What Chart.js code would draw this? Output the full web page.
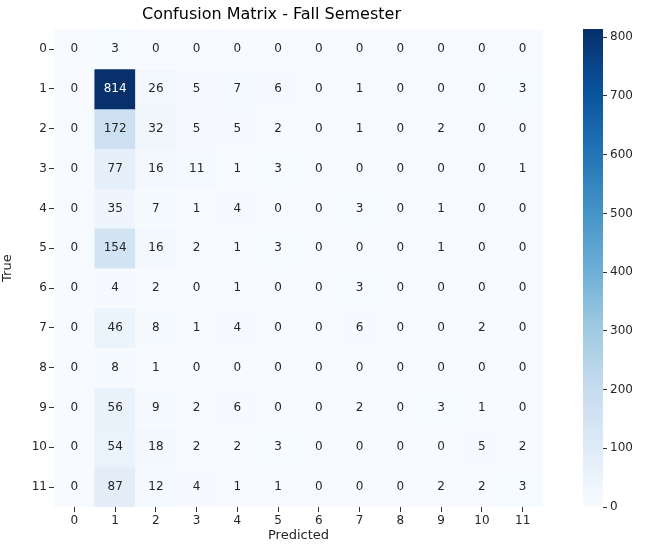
<!DOCTYPE html>
<html>
<head>
<meta charset="utf-8">
<script src="https://cdn.jsdelivr.net/npm/chart.js@4"></script>
<style>
  body { margin: 0; background: #fff; }
  #wrap { position: relative; width: 649px; height: 547px; }
  #main { position: absolute; left: 0; top: 0; }
  #bar { position: absolute; left: 583px; top: 0; }
</style>
</head>
<body>
<div id="wrap">
  <canvas id="main" width="548" height="547"></canvas>
  <canvas id="bar" width="66" height="547"></canvas>
</div>
<script>
const labels = ["0", "1", "2", "3", "4", "5", "6", "7", "8", "9", "10", "11"];
const row0 = [0, 3, 0, 0, 0, 0, 0, 0, 0, 0, 0, 0];
const row1 = [0, 814, 26, 5, 7, 6, 0, 1, 0, 0, 0, 3];
const row2 = [0, 172, 32, 5, 5, 2, 0, 1, 0, 2, 0, 0];
const row3 = [0, 77, 16, 11, 1, 3, 0, 0, 0, 0, 0, 1];
const row4 = [0, 35, 7, 1, 4, 0, 0, 3, 0, 1, 0, 0];
const row5 = [0, 154, 16, 2, 1, 3, 0, 0, 0, 1, 0, 0];
const row6 = [0, 4, 2, 0, 1, 0, 0, 3, 0, 0, 0, 0];
const row7 = [0, 46, 8, 1, 4, 0, 0, 6, 0, 0, 2, 0];
const row8 = [0, 8, 1, 0, 0, 0, 0, 0, 0, 0, 0, 0];
const row9 = [0, 56, 9, 2, 6, 0, 0, 2, 0, 3, 1, 0];
const row10 = [0, 54, 18, 2, 2, 3, 0, 0, 0, 0, 5, 2];
const row11 = [0, 87, 12, 4, 1, 1, 0, 0, 0, 2, 2, 3];
const rows = [row0, row1, row2, row3, row4, row5, row6, row7, row8, row9, row10, row11];
const colorTicks = [0, 100, 200, 300, 400, 500, 600, 700, 800];
const vmax = 814;

// matplotlib "Blues"
const blues = ["#f7fbff", "#deebf7", "#c6dbef", "#9ecae1", "#6baed6", "#4292c6", "#2171b5", "#08519c", "#08306b"];
function hex(h) { return [1, 3, 5].map(i => parseInt(h.substr(i, 2), 16)); }
function bluesRgb(t) {
  t = Math.max(0, Math.min(1, t));
  const p = t * (blues.length - 1);
  const i = Math.min(Math.floor(p), blues.length - 2);
  const f = p - i;
  const a = hex(blues[i]), b = hex(blues[i + 1]);
  return a.map((v, k) => Math.round(v + (b[k] - v) * f));
}
function bluesColor(v) { const c = bluesRgb(v / vmax); return `rgb(${c[0]},${c[1]},${c[2]})`; }
function textColor(v) {
  const c = bluesRgb(v / vmax).map(x => x / 255);
  const lum = 0.2126 * c[0] + 0.7152 * c[1] + 0.0722 * c[2];
  return lum > 0.408 ? "#262626" : "#ffffff";
}

Chart.defaults.font.family = "'DejaVu Sans', sans-serif";
Chart.defaults.color = "#262626";
Chart.defaults.animation = false;

const datasets = rows.map((r, ri) => ({
  data: r.map(() => [ri - 0.5, ri + 0.5]),
  backgroundColor: r.map(v => bluesColor(v)),
  borderWidth: 0,
  barPercentage: 1.0,
  categoryPercentage: 1.0,
  grouped: false
}));

const cellText = {
  id: "cellText",
  afterDatasetsDraw(chart) {
    const ctx = chart.ctx, x = chart.scales.x, y = chart.scales.y;
    ctx.save();
    ctx.font = "12px 'DejaVu Sans', sans-serif";
    ctx.textAlign = "center";
    ctx.textBaseline = "middle";
    rows.forEach((r, ri) => r.forEach((v, ci) => {
      ctx.fillStyle = textColor(v);
      ctx.fillText(String(v), x.getPixelForValue(ci), y.getPixelForValue(ri));
    }));
    ctx.restore();
  }
};

new Chart(document.getElementById("main"), {
  type: "bar",
  data: { labels: labels, datasets: datasets },
  options: {
    responsive: false,
    layout: { padding: { right: 5 } },
    plugins: {
      legend: { display: false },
      tooltip: { enabled: false },
      title: { display: true, text: "Confusion Matrix - Fall Semester", color: "#000",
               font: { size: 16, weight: "normal" }, padding: { top: 5, bottom: 5 } }
    },
    scales: {
      x: {
        grid: { drawOnChartArea: false, offset: false, tickLength: 5, color: "#333" },
        border: { display: false },
        ticks: { font: { size: 12 }, maxRotation: 0, padding: 2 },
        title: { display: true, text: "Predicted", font: { size: 13 }, padding: { top: 2 } },
        afterFit(s) { s.height = 40; }
      },
      y: {
        type: "linear", reverse: true, min: -0.5, max: 11.5,
        grid: { drawOnChartArea: false, tickLength: 5, color: "#333" },
        border: { display: false },
        afterBuildTicks(s) { s.ticks = labels.map((l, i) => ({ value: i })); },
        ticks: { font: { size: 12 }, callback: v => String(v), padding: 2 },
        title: { display: true, text: "True", font: { size: 13 }, padding: 0 },
        afterFit(s) { s.width = 54; }
      }
    }
  },
  plugins: [cellText]
});

const gradientFill = {
  id: "gradientFill",
  beforeDatasetsDraw(chart) {
    const a = chart.chartArea;
    const g = chart.ctx.createLinearGradient(0, a.bottom, 0, a.top);
    blues.forEach((c, i) => g.addColorStop(i / (blues.length - 1), c));
    chart.getDatasetMeta(0).data.forEach(el => { el.options.backgroundColor = g; });
  }
};

new Chart(document.getElementById("bar"), {
  type: "bar",
  data: { labels: [""], datasets: [{ data: [[0, vmax]], borderWidth: 0, barPercentage: 1, categoryPercentage: 1 }] },
  options: {
    responsive: false,
    layout: { padding: { top: 29, bottom: 40 } },
    plugins: { legend: { display: false }, tooltip: { enabled: false } },
    scales: {
      x: { display: false },
      y: {
        position: "right", min: 0, max: vmax,
        grid: { drawOnChartArea: false, tickLength: 4, color: "#333" },
        border: { display: false },
        afterBuildTicks(s) { s.ticks = colorTicks.map(v => ({ value: v })); },
        ticks: { font: { size: 12 } },
        afterFit(s) { s.width = 46; }
      }
    }
  },
  plugins: [gradientFill]
});
</script>
</body>
</html>
